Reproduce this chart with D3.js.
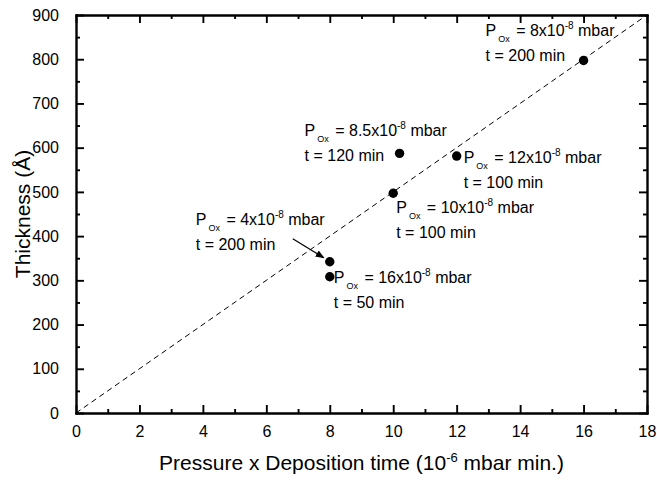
<!DOCTYPE html>
<html>
<head>
<meta charset="utf-8">
<script src="https://cdn.jsdelivr.net/npm/d3@7"></script>
<style>
  body { margin: 0; background: #fff; }
  svg { font-family: "Liberation Sans", Arial, sans-serif; }
  .axis path, .axis line { stroke: #000; stroke-width: 1.9; }
  .axis text { font-size: 16px; fill: #000; }
  .note { font-size: 16px; fill: #000; }
  .title { font-size: 21px; fill: #000; }
</style>
</head>
<body>
<div id="chart"></div>
<script>
// measured points
const pressureTime = [16, 10.2, 12, 10, 8, 8];
const thickness = [797, 587, 581, 497, 342, 308];
const pOx = ["8", "8.5", "12", "10", "4", "16"];
const depTime = [200, 120, 100, 100, 200, 50];

// dashed guide line
const guideX = [0, 18];
const guideY = [0, 900];

const xTicks = [0, 2, 4, 6, 8, 10, 12, 14, 16, 18];
const yTicks = [0, 100, 200, 300, 400, 500, 600, 700, 800, 900];

// label placement, pixel offset of the first line from the point
const labelOffsets = [[-98, -25], [-95, -17], [7, 7], [3, 20], [-134, -37], [4, 6]];

const width = 657, height = 481;
const margin = {top: 15, right: 10, bottom: 68, left: 76};

let svg = d3.select("#chart")
            .append("svg")
            .attr("width", width)
            .attr("height", height);

let x = d3.scaleLinear()
          .domain([0, 18])
          .range([margin.left, width - margin.right]);

let y = d3.scaleLinear()
          .domain([0, 900])
          .range([height - margin.bottom, margin.top]);

const x0 = x.range()[0], x1 = x.range()[1], y0 = y.range()[0], y1 = y.range()[1];
const xMinor = d3.range(1, 18, 2);
const yMinor = d3.range(50, 900, 100);

svg.append("defs").append("clipPath")
   .attr("id", "plotClip")
   .append("rect")
   .attr("x", x0).attr("y", y1)
   .attr("width", x1 - x0).attr("height", y0 - y1);

svg.append("defs").append("marker")
   .attr("id", "arrow")
   .attr("viewBox", "0 0 10 10")
   .attr("refX", 9).attr("refY", 5)
   .attr("markerWidth", 9).attr("markerHeight", 9)
   .attr("markerUnits", "userSpaceOnUse")
   .attr("orient", "auto")
   .append("path")
   .attr("d", "M0,1 L10,5 L0,9 z")
   .attr("fill", "#000");

// dashed line
svg.append("path")
   .datum(guideX.map((d, i) => [d, guideY[i]]))
   .attr("clip-path", "url(#plotClip)")
   .attr("fill", "none")
   .attr("stroke", "#000")
   .attr("stroke-width", 1)
   .attr("stroke-dasharray", "5.5,4")
   .attr("d", d3.line().x(d => x(d[0])).y(d => y(d[1])));

// axes: major ticks inward, minor ticks inward, no labels on top/right
function addAxis(gen, tr, vals, size, labels) {
  let g = svg.append("g")
             .attr("class", "axis")
             .attr("transform", tr)
             .call(gen.tickValues(vals).tickSize(size).tickSizeOuter(0));
  if (!labels) g.selectAll("text").remove();
  return g;
}

let bottomAxis = addAxis(d3.axisBottom(x).tickPadding(13), `translate(0,${y0})`, xTicks, -8, true);
bottomAxis.selectAll("text").attr("dy", "0.71em");
addAxis(d3.axisBottom(x), `translate(0,${y0})`, xMinor, -4, false);
addAxis(d3.axisTop(x), `translate(0,${y1})`, xTicks, -8, false);
addAxis(d3.axisTop(x), `translate(0,${y1})`, xMinor, -4, false);

addAxis(d3.axisLeft(y).tickPadding(17), `translate(${x0},0)`, yTicks, -8, true);
addAxis(d3.axisLeft(y), `translate(${x0},0)`, yMinor, -4, false);
addAxis(d3.axisRight(y), `translate(${x1},0)`, yTicks, -8, false);
addAxis(d3.axisRight(y), `translate(${x1},0)`, yMinor, -4, false);

svg.selectAll(".axis path.domain").attr("stroke-linecap", "square");

// points
svg.selectAll("circle.pt")
   .data(pressureTime)
   .enter()
   .append("circle")
   .attr("class", "pt")
   .attr("cx", d => x(d))
   .attr("cy", (d, i) => y(thickness[i]))
   .attr("r", 4.7)
   .attr("fill", "#000");

// annotations
pressureTime.forEach((d, i) => {
  let px = x(d) + labelOffsets[i][0], py = y(thickness[i]) + labelOffsets[i][1];
  let t1 = svg.append("text").attr("class", "note").attr("x", px).attr("y", py);
  t1.append("tspan").text("P");
  t1.append("tspan").attr("font-size", 9).attr("dx", 2).attr("dy", 6).text("Ox");
  t1.append("tspan").attr("dx", 2).attr("dy", -6).text(" = " + pOx[i] + "x10");
  t1.append("tspan").attr("font-size", 10).attr("dy", -7).text("-8");
  t1.append("tspan").attr("dy", 7).text(" mbar");
  svg.append("text").attr("class", "note")
     .attr("x", px).attr("y", py + 25)
     .text("t = " + depTime[i] + " min");
});

// arrow to the 4x10-8 point
let ax = x(pressureTime[4]), ay = y(thickness[4]);
svg.append("line")
   .attr("x1", ax - 37).attr("y1", ay - 23)
   .attr("x2", ax - 6).attr("y2", ay - 4)
   .attr("stroke", "#000")
   .attr("stroke-width", 1.2)
   .attr("marker-end", "url(#arrow)");

// axis titles
let xt = svg.append("text")
            .attr("class", "title")
            .attr("x", (x0 + x1) / 2)
            .attr("y", 470)
            .style("text-anchor", "middle");
xt.append("tspan").text("Pressure x Deposition time (10");
xt.append("tspan").attr("font-size", 13).attr("dy", -8).text("-6");
xt.append("tspan").attr("dy", 8).text(" mbar min.)");

svg.append("text")
   .attr("class", "title")
   .attr("transform", `translate(30,${(y0 + y1) / 2}) rotate(-90)`)
   .style("text-anchor", "middle")
   .text("Thickness (Å)");
</script>
</body>
</html>
